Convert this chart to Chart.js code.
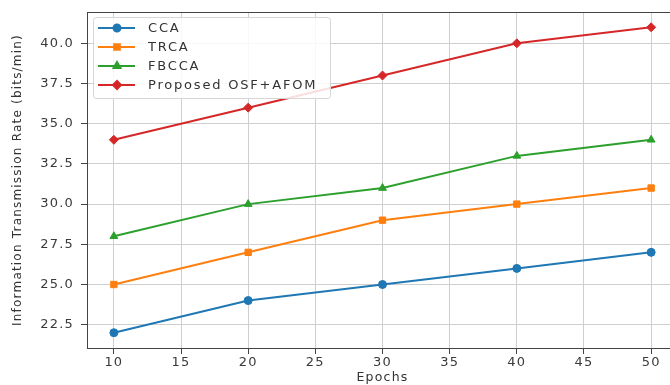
<!DOCTYPE html>
<html>
<head>
<meta charset="utf-8">
<script src="https://cdn.jsdelivr.net/npm/chart.js@4"></script>
<style>
  html, body { margin: 0; padding: 0; background: #fff; overflow: hidden; }
  #wrap { width: 670px; height: 385px; overflow: hidden; }
</style>
</head>
<body>
<div id="wrap"><canvas id="itr-chart" width="684" height="385"></canvas></div>
<script>
const epochs = [10, 20, 30, 40, 50];
const ccaValues = [22, 24, 25, 26, 27];
const trcaValues = [25, 27, 29, 30, 31];
const fbccaValues = [28, 30, 31, 33, 34];
const proposedValues = [34, 36, 38, 40, 41];
const seriesLabels = ["CCA", "TRCA", "FBCCA", "Proposed OSF+AFOM"];
const xTickValues = [10, 15, 20, 25, 30, 35, 40, 45, 50];
const yTickValues = [22.5, 25, 27.5, 30, 32.5, 35, 37.5, 40];

const FONT = "'DejaVu Sans', sans-serif";

const toPoints = (vals) => vals.map((v, i) => ({ x: epochs[i], y: v }));

const makeSet = (label, vals, color, style, radius) => ({
  label: label,
  data: toPoints(vals),
  borderColor: color,
  backgroundColor: color,
  borderWidth: 2,
  pointStyle: style,
  pointRadius: radius,
  pointBorderWidth: 1,
  fill: false,
  tension: 0,
});

// the text in the picture is quite wide, spread letters a little
const wideText = {
  id: "wideText",
  beforeLayout(chart) { chart.ctx.letterSpacing = "1.2px"; },
  beforeDraw(chart) { chart.ctx.letterSpacing = "1.2px"; },
};

// top/right frame + legend inside the plot
const frameAndLegend = {
  id: "frameAndLegend",
  afterDraw(chart) {
    const { ctx, chartArea } = chart;
    ctx.save();
    ctx.strokeStyle = "#444";
    ctx.lineWidth = 1;
    ctx.beginPath();
    ctx.moveTo(chartArea.left, chartArea.top + 0.5);
    ctx.lineTo(chartArea.right, chartArea.top + 0.5);
    ctx.moveTo(chartArea.right - 0.5, chartArea.top);
    ctx.lineTo(chartArea.right - 0.5, chartArea.bottom);
    ctx.stroke();

    // legend box
    const bx = chartArea.left + 6, by = chartArea.top + 5, bw = 237, bh = 81;
    ctx.fillStyle = "rgba(255,255,255,0.85)";
    ctx.strokeStyle = "#d6d6d6";
    ctx.beginPath();
    ctx.roundRect(bx + 0.5, by + 0.5, bw, bh, 3);
    ctx.fill();
    ctx.stroke();

    ctx.font = "13px " + FONT;
    ctx.letterSpacing = "1.8px";
    ctx.textBaseline = "middle";
    chart.data.datasets.forEach((ds, i) => {
      const y = by + 11 + i * 19;
      ctx.strokeStyle = ds.borderColor;
      ctx.lineWidth = 2;
      ctx.beginPath();
      ctx.moveTo(bx + 5, y);
      ctx.lineTo(bx + 42, y);
      ctx.stroke();
      ctx.fillStyle = ds.borderColor;
      Chart.helpers.drawPoint(ctx, {
        pointStyle: ds.pointStyle, radius: ds.pointRadius - 0.5, rotation: 0,
        borderWidth: 1
      }, bx + 24, y);
      ctx.fillStyle = "#333";
      ctx.fillText(ds.label, bx + 55, y + 1);
    });
    ctx.restore();
  },
};

const ctx = document.getElementById("itr-chart").getContext("2d");
new Chart(ctx, {
  type: "line",
  data: {
    datasets: [
      makeSet(seriesLabels[0], ccaValues, "#1f77b4", "circle", 4),
      makeSet(seriesLabels[1], trcaValues, "#ff7f0e", "rect", 4.5),
      makeSet(seriesLabels[2], fbccaValues, "#2ca02c", "triangle", 4.5),
      makeSet(seriesLabels[3], proposedValues, "#d62728", "rectRot", 4.5),
    ],
  },
  options: {
    responsive: false,
    animation: false,
    layout: { padding: { top: 12, right: 6, left: 0, bottom: 0 } },
    plugins: {
      legend: { display: false },
      tooltip: { enabled: false },
    },
    scales: {
      x: {
        type: "linear",
        min: 8,
        max: 52,
        afterBuildTicks: (scale) => { scale.ticks = xTickValues.map((v) => ({ value: v })); },
        afterFit: (scale) => { scale.height = 37; scale.paddingLeft = 0; scale.paddingRight = 0; },
        grid: { color: "#cfcfcf", tickColor: "#444", tickLength: 6, lineWidth: 1 },
        border: { color: "#444", width: 1 },
        ticks: { color: "#3a3a3a", font: { family: FONT, size: 13 }, padding: 1, maxRotation: 0 },
        title: { display: true, text: "Epochs", color: "#333", font: { family: FONT, size: 12.5 }, padding: { top: 0, bottom: 0 } },
      },
      y: {
        min: 21.05,
        max: 41.95,
        afterBuildTicks: (scale) => { scale.ticks = yTickValues.map((v) => ({ value: v })); },
        afterFit: (scale) => { scale.width = 87; scale.paddingTop = 0; scale.paddingBottom = 0; },
        grid: { color: "#cfcfcf", tickColor: "#444", tickLength: 6, lineWidth: 1 },
        border: { color: "#444", width: 1 },
        ticks: { color: "#3a3a3a", font: { family: FONT, size: 13 }, padding: 7, callback: (v) => Number(v).toFixed(1) },
        title: { display: true, text: "Information Transmission Rate (bits/min)", color: "#333", font: { family: FONT, size: 12 }, padding: { top: 11, bottom: 0 } },
      },
    },
  },
  plugins: [wideText, frameAndLegend],
});
</script>
</body>
</html>
